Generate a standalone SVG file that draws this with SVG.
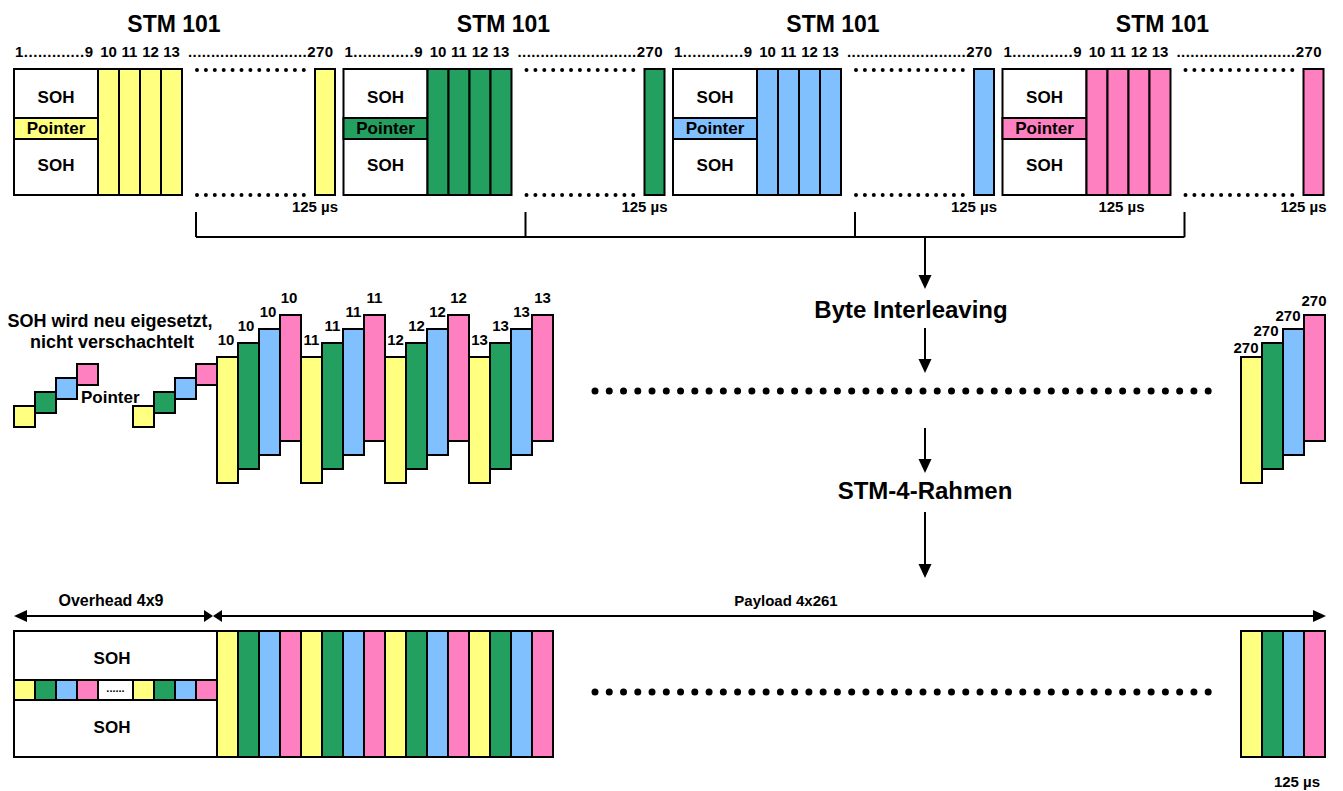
<svg xmlns="http://www.w3.org/2000/svg" width="1343" height="791" viewBox="0 0 1343 791">
<style>
text{font-family:"Liberation Sans",Arial,sans-serif;font-weight:bold;fill:#000}
.b{stroke:#000;stroke-width:2}
.y{fill:#ffff80}.g{fill:#23a05f}.u{fill:#80c0ff}.p{fill:#ff80c0}.w{fill:#fff}
.t23{font-size:23px}.t24{font-size:24px}.t18{font-size:18px}.t17{font-size:17px}.t16{font-size:16px}.t15{font-size:15px}.t14{font-size:14px}
.m{text-anchor:middle}
.dotS{stroke:#000;stroke-width:4;stroke-linecap:round;stroke-dasharray:0 8.9;fill:none}
.dotL{stroke:#000;stroke-width:7;stroke-linecap:round;stroke-dasharray:0 14.26;fill:none}
.ln{stroke:#000;stroke-width:2;fill:none}
</style>
<defs>
<g id="frameBase">
<rect class="b w" x="14" y="69" width="84" height="126"/>
<line class="dotS" x1="197" y1="70" x2="304" y2="70"/>
<line class="dotS" x1="197" y1="195" x2="304" y2="195"/>
<text class="t15" x="15" y="57" textLength="78" lengthAdjust="spacing">1.............9</text>
<text class="t15 m" x="108.5" y="57">10</text>
<text class="t15 m" x="129.5" y="57">11</text>
<text class="t15 m" x="150.5" y="57">12</text>
<text class="t15 m" x="171.5" y="57">13</text>
<text class="t15" x="188" y="57" textLength="145" lengthAdjust="spacing">..........................270</text>
<text class="t23 m" x="174" y="32">STM 101</text>
<text class="t17 m" x="56" y="103">SOH</text>
<text class="t17 m" x="56" y="171">SOH</text>
<text class="t15 m" x="315" y="212">125 µs</text>
</g>
</defs>

<g id="stm1">
<use href="#frameBase"/>
<g class="b y">
<rect x="14" y="118" width="84" height="21"/>
<rect x="98" y="69" width="21" height="126"/><rect x="119" y="69" width="21" height="126"/><rect x="140" y="69" width="21" height="126"/><rect x="161" y="69" width="21" height="126"/>
<rect x="315" y="69" width="20" height="126"/>
</g>
<text class="t17 m" x="56" y="134">Pointer</text>
</g>

<g id="stm2" transform="translate(329.5,0)">
<use href="#frameBase"/>
<g class="b g">
<rect x="14" y="118" width="84" height="21"/>
<rect x="98" y="69" width="21" height="126"/><rect x="119" y="69" width="21" height="126"/><rect x="140" y="69" width="21" height="126"/><rect x="161" y="69" width="21" height="126"/>
<rect x="315" y="69" width="20" height="126"/>
</g>
<text class="t17 m" x="56" y="134">Pointer</text>
</g>

<g id="stm3" transform="translate(659,0)">
<use href="#frameBase"/>
<g class="b u">
<rect x="14" y="118" width="84" height="21"/>
<rect x="98" y="69" width="21" height="126"/><rect x="119" y="69" width="21" height="126"/><rect x="140" y="69" width="21" height="126"/><rect x="161" y="69" width="21" height="126"/>
<rect x="315" y="69" width="20" height="126"/>
</g>
<text class="t17 m" x="56" y="134">Pointer</text>
</g>

<g id="stm4" transform="translate(988.5,0)">
<use href="#frameBase"/>
<g class="b p">
<rect x="14" y="118" width="84" height="21"/>
<rect x="98" y="69" width="21" height="126"/><rect x="119" y="69" width="21" height="126"/><rect x="140" y="69" width="21" height="126"/><rect x="161" y="69" width="21" height="126"/>
<rect x="315" y="69" width="20" height="126"/>
</g>
<text class="t17 m" x="56" y="134">Pointer</text>
<text class="t15 m" x="133" y="212">125 µs</text>
</g>

<g id="connectors">
<path class="ln" d="M196,212 V237 M525.5,212 V237 M855,212 V237 M1184.5,212 V237 M196,237 H1184.5"/>
<path class="ln" d="M925,237 V276 M925,328 V360 M925,428 V460 M925,512 V565"/>
<polygon points="918.5,275 931.5,275 925,289"/>
<polygon points="918.5,359 931.5,359 925,373"/>
<polygon points="918.5,459 931.5,459 925,473"/>
<polygon points="918.5,564 931.5,564 925,578"/>
<path class="ln" d="M26,616 H204 M222,616 H1313"/>
<polygon points="14,616 27,610 27,622"/>
<polygon points="213,616 204,610 204,622"/>
<polygon points="213,616 222,610 222,622"/>
<polygon points="1326,616 1313,610 1313,622"/>
</g>

<g id="labels">
<text class="t24 m" x="911" y="318">Byte Interleaving</text>
<text class="t24 m" x="925" y="499">STM-4-Rahmen</text>
<text class="t16 m" x="111" y="606">Overhead 4x9</text>
<text class="t15 m" x="786" y="606">Payload 4x261</text>
</g>

<g id="soh-note">
<text class="t18 m" x="110" y="327">SOH wird neu eigesetzt,</text>
<text class="t18 m" x="112" y="348">nicht verschachtelt</text>
<g class="b">
<rect class="y" x="14" y="406" width="21" height="21"/>
<rect class="g" x="35" y="392" width="21" height="21"/>
<rect class="u" x="56" y="378" width="21" height="21"/>
<rect class="p" x="77" y="364" width="21" height="21"/>
</g>
<text class="t17" x="81" y="403">Pointer</text>
</g>

<g id="pointers-interleaved" class="b">
<rect class="y" x="133" y="406" width="21" height="21"/>
<rect class="g" x="154" y="392" width="21" height="21"/>
<rect class="u" x="175" y="378" width="21" height="21"/>
<rect class="p" x="196" y="364" width="21" height="21"/>
</g>

<g id="interleaved-10">
<g class="b">
<rect class="y" x="217" y="357" width="21" height="126"/>
<rect class="g" x="238" y="343" width="21" height="126"/>
<rect class="u" x="259" y="329" width="21" height="126"/>
<rect class="p" x="280" y="315" width="21" height="126"/>
</g>
<text class="t15 m" x="226" y="345">10</text><text class="t15 m" x="246" y="331">10</text><text class="t15 m" x="268" y="317">10</text><text class="t15 m" x="289" y="303">10</text>
</g>
<g id="interleaved-11">
<g class="b">
<rect class="y" x="301" y="357" width="21" height="126"/>
<rect class="g" x="322" y="343" width="21" height="126"/>
<rect class="u" x="343" y="329" width="21" height="126"/>
<rect class="p" x="364" y="315" width="21" height="126"/>
</g>
<text class="t15 m" x="311.5" y="345">11</text><text class="t15 m" x="332.5" y="331">11</text><text class="t15 m" x="353.5" y="317">11</text><text class="t15 m" x="374.5" y="303">11</text>
</g>
<g id="interleaved-12">
<g class="b">
<rect class="y" x="385" y="357" width="21" height="126"/>
<rect class="g" x="406" y="343" width="21" height="126"/>
<rect class="u" x="427" y="329" width="21" height="126"/>
<rect class="p" x="448" y="315" width="21" height="126"/>
</g>
<text class="t15 m" x="395.5" y="345">12</text><text class="t15 m" x="416.5" y="331">12</text><text class="t15 m" x="437.5" y="317">12</text><text class="t15 m" x="458.5" y="303">12</text>
</g>
<g id="interleaved-13">
<g class="b">
<rect class="y" x="469" y="357" width="21" height="126"/>
<rect class="g" x="490" y="343" width="21" height="126"/>
<rect class="u" x="511" y="329" width="21" height="126"/>
<rect class="p" x="532" y="315" width="21" height="126"/>
</g>
<text class="t15 m" x="479.5" y="345">13</text><text class="t15 m" x="500.5" y="331">13</text><text class="t15 m" x="521.5" y="317">13</text><text class="t15 m" x="542.5" y="303">13</text>
</g>

<line class="dotL" x1="595" y1="391" x2="1210" y2="391"/>

<g id="interleaved-270">
<g class="b">
<rect class="y" x="1241" y="357" width="21" height="126"/>
<rect class="g" x="1262" y="343" width="21" height="126"/>
<rect class="u" x="1283" y="329" width="21" height="126"/>
<rect class="p" x="1304" y="315" width="21" height="126"/>
</g>
<text class="t15 m" x="1246" y="353">270</text><text class="t15 m" x="1266" y="336">270</text><text class="t15 m" x="1288" y="321">270</text><text class="t15 m" x="1314" y="306">270</text>
</g>

<g id="stm4-frame">
<rect class="b w" x="14" y="631" width="203" height="126"/>
<g class="b">
<rect class="y" x="14" y="680" width="21" height="20"/>
<rect class="g" x="35" y="680" width="21" height="20"/>
<rect class="u" x="56" y="680" width="21" height="20"/>
<rect class="p" x="77" y="680" width="21" height="20"/>
<rect class="w" x="98" y="680" width="35" height="20"/>
<rect class="y" x="133" y="680" width="21" height="20"/>
<rect class="g" x="154" y="680" width="21" height="20"/>
<rect class="u" x="175" y="680" width="21" height="20"/>
<rect class="p" x="196" y="680" width="21" height="20"/>
</g>
<text class="m" style="font-size:11px" x="115.5" y="692">......</text>
<text class="t17 m" x="112" y="664">SOH</text>
<text class="t17 m" x="112" y="733">SOH</text>
<g class="b">
<rect class="y" x="217" y="631" width="21" height="126"/><rect class="g" x="238" y="631" width="21" height="126"/><rect class="u" x="259" y="631" width="21" height="126"/><rect class="p" x="280" y="631" width="21" height="126"/>
<rect class="y" x="301" y="631" width="21" height="126"/><rect class="g" x="322" y="631" width="21" height="126"/><rect class="u" x="343" y="631" width="21" height="126"/><rect class="p" x="364" y="631" width="21" height="126"/>
<rect class="y" x="385" y="631" width="21" height="126"/><rect class="g" x="406" y="631" width="21" height="126"/><rect class="u" x="427" y="631" width="21" height="126"/><rect class="p" x="448" y="631" width="21" height="126"/>
<rect class="y" x="469" y="631" width="21" height="126"/><rect class="g" x="490" y="631" width="21" height="126"/><rect class="u" x="511" y="631" width="21" height="126"/><rect class="p" x="532" y="631" width="21" height="126"/>
<rect class="y" x="1241" y="631" width="21" height="126"/><rect class="g" x="1262" y="631" width="21" height="126"/><rect class="u" x="1283" y="631" width="21" height="126"/><rect class="p" x="1304" y="631" width="21" height="126"/>
</g>
<line class="dotL" x1="595" y1="692" x2="1210" y2="692"/>
<text class="t15 m" x="1297" y="787">125 µs</text>
</g>
</svg>
